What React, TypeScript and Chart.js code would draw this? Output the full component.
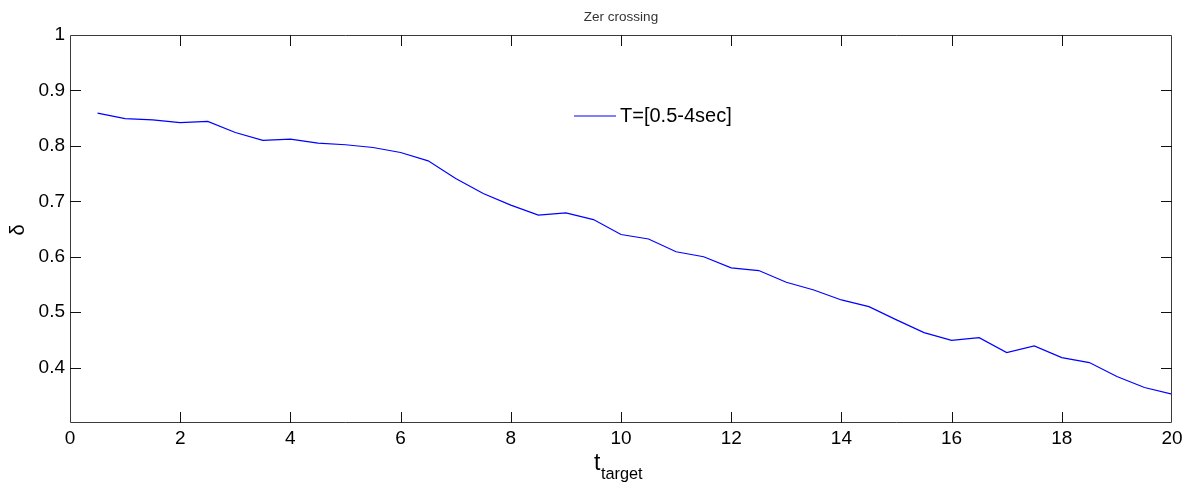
import React, { useEffect, useRef } from "react";
import { Chart, registerables } from "chart.js";

Chart.register(...registerables);

const xValues = [
  0.5, 1, 1.5, 2, 2.5, 3, 3.5, 4, 4.5, 5, 5.5, 6, 6.5, 7, 7.5, 8, 8.5, 9, 9.5, 10,
  10.5, 11, 11.5, 12, 12.5, 13, 13.5, 14, 14.5, 15, 15.5, 16, 16.5, 17, 17.5, 18,
  18.5, 19, 19.5, 20,
];
const deltaValues = [
  0.859, 0.849, 0.847, 0.842, 0.844, 0.824, 0.810, 0.812, 0.805, 0.802, 0.797,
  0.788, 0.773, 0.741, 0.714, 0.693, 0.675, 0.679, 0.667, 0.640, 0.632, 0.609,
  0.600, 0.580, 0.575, 0.554, 0.540, 0.522, 0.510, 0.486, 0.463, 0.449, 0.454,
  0.427, 0.439, 0.418, 0.409, 0.384, 0.364, 0.352,
];
const seriesLabel = "T=[0.5-4sec]";
const titleText = "Zer crossing";
const yAxisLabel = "δ";
const xAxisMain = "t";
const xAxisSub = "target";
const xTickValues = [0, 2, 4, 6, 8, 10, 12, 14, 16, 18, 20];
const yTickValues = [0.3, 0.4, 0.5, 0.6, 0.7, 0.8, 0.9, 1];

const FONT = '"Liberation Sans", Arial, sans-serif';

const decorPlugin = {
  id: "decor",
  afterDraw(chart: any) {
    const { ctx, chartArea } = chart;
    const { left, right, top, bottom } = chartArea;
    const xs = chart.scales.x;
    const ys = chart.scales.y;
    ctx.save();
    // box
    ctx.strokeStyle = "#3a3a3a";
    ctx.lineWidth = 1;
    ctx.beginPath();
    ctx.rect(left + 0.5, top + 0.5, right - left - 1, bottom - top - 1);
    ctx.stroke();
    // inward ticks
    const tl = 11;
    ctx.strokeStyle = "#111";
    ctx.beginPath();
    xTickValues.forEach((v) => {
      const px = Math.round(xs.getPixelForValue(v)) + 0.5;
      if (px <= left + 1 || px >= right - 1) return;
      ctx.moveTo(px, bottom);
      ctx.lineTo(px, bottom - tl);
      ctx.moveTo(px, top);
      ctx.lineTo(px, top + tl);
    });
    yTickValues.forEach((v) => {
      const py = Math.round(ys.getPixelForValue(v)) + 0.5;
      if (py <= top + 1 || py >= bottom - 1) return;
      ctx.moveTo(left, py);
      ctx.lineTo(left + tl, py);
      ctx.moveTo(right, py);
      ctx.lineTo(right - tl, py);
    });
    ctx.stroke();
    // title
    ctx.fillStyle = "#333";
    ctx.font = `13.5px ${FONT}`;
    ctx.textAlign = "center";
    ctx.textBaseline = "middle";
    ctx.fillText(titleText, (left + right) / 2, 17);
    // legend
    ctx.strokeStyle = "#0000ff";
    ctx.lineWidth = 1.2;
    ctx.beginPath();
    ctx.moveTo(574, 116);
    ctx.lineTo(616, 116);
    ctx.stroke();
    ctx.fillStyle = "#000";
    ctx.font = `20px ${FONT}`;
    ctx.textAlign = "left";
    ctx.textBaseline = "middle";
    ctx.fillText(seriesLabel, 620, 116);
    // y axis label
    ctx.save();
    ctx.translate(18, 230);
    ctx.rotate(-Math.PI / 2);
    ctx.font = `20px ${FONT}`;
    ctx.textAlign = "center";
    ctx.textBaseline = "middle";
    ctx.fillStyle = "#000";
    ctx.fillText(yAxisLabel, 0, 0);
    ctx.restore();
    // x axis label with subscript
    ctx.textAlign = "left";
    ctx.textBaseline = "alphabetic";
    ctx.font = `23px ${FONT}`;
    ctx.fillText(xAxisMain, 594, 470);
    ctx.font = `16.3px ${FONT}`;
    ctx.fillText(xAxisSub, 601, 479);
    ctx.restore();
  },
};

export default function App() {
  const canvasRef = useRef<HTMLCanvasElement | null>(null);

  useEffect(() => {
    document.body.style.margin = "0";
    const canvas = canvasRef.current;
    if (!canvas) return;
    const chart = new Chart(canvas, {
      type: "line",
      data: {
        datasets: [
          {
            label: seriesLabel,
            data: xValues.map((x, i) => ({ x, y: deltaValues[i] })),
            borderColor: "#0000ff",
            borderWidth: 1.2,
            pointRadius: 0,
            fill: false,
            tension: 0,
          },
        ],
      },
      options: {
        animation: false,
        responsive: true,
        maintainAspectRatio: false,
        layout: { padding: { left: 0, right: 20, top: 35, bottom: 0 } },
        plugins: {
          legend: { display: false },
          title: { display: false },
          tooltip: { enabled: false },
        },
        scales: {
          x: {
            type: "linear",
            min: 0,
            max: 20,
            afterFit: (s: any) => {
              s.height = 63;
            },
            afterBuildTicks: (s: any) => {
              s.ticks = xTickValues.map((v) => ({ value: v }));
            },
            grid: { display: false, drawTicks: false },
            border: { display: false },
            ticks: {
              padding: 4,
              color: "#000",
              font: { family: FONT, size: 19 },
              maxRotation: 0,
              autoSkip: false,
              callback: (v: any) => String(v),
            },
          },
          y: {
            type: "linear",
            min: 0.3,
            max: 1,
            afterFit: (s: any) => {
              s.width = 70;
            },
            afterBuildTicks: (s: any) => {
              s.ticks = yTickValues.map((v) => ({ value: v }));
            },
            grid: { display: false, drawTicks: false },
            border: { display: false },
            ticks: {
              padding: 5,
              color: "#000",
              font: { family: FONT, size: 19 },
              autoSkip: false,
              callback: (v: any) => {
                const n = Number(v);
                if (n < 0.35) return "";
                if (Math.abs(n - 1) < 1e-9) return "1";
                return n.toFixed(1);
              },
            },
          },
        },
      },
      plugins: [decorPlugin],
    });
    return () => chart.destroy();
  }, []);

  return (
    <div style={{ width: 1192, height: 486, position: "relative", background: "#fff" }}>
      <canvas ref={canvasRef} />
    </div>
  );
}
